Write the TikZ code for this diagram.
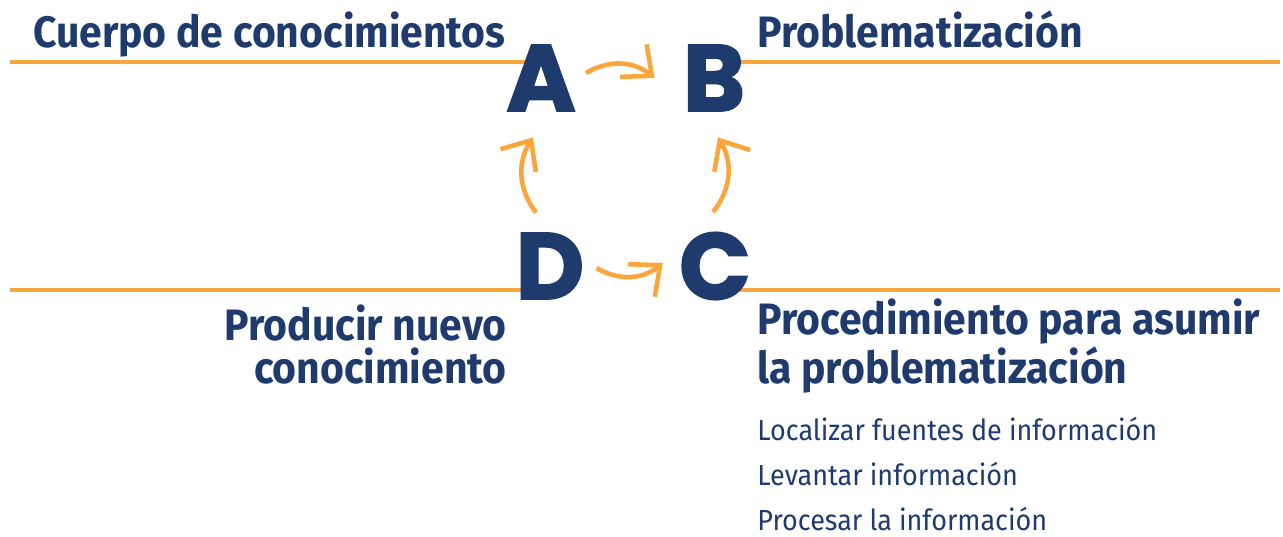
\documentclass[tikz,border=0pt]{standalone}
\usepackage{fontspec}
\setmainfont{Fira Sans}[FakeStretch=0.93]
\newfontfamily\letterfont{Poppins}[BoldFeatures={FakeBold=2}]
\usetikzlibrary{arrows.meta}
\definecolor{navy}{RGB}{31,59,110}
\definecolor{naranja}{RGB}{250,166,60}

\begin{document}
\begin{tikzpicture}[x=0.5pt, y=-0.5pt,
  letra/.style={text=navy, font=\letterfont\bfseries\fontsize{47}{47}\selectfont, inner sep=0},
  titulo/.style={text=navy, font=\bfseries\fontsize{22}{21.5}\selectfont, inner sep=0},
  paso/.style={text=navy, font=\fontsize{14.5}{22.5}\selectfont, inner sep=0},
  regla/.style={draw=naranja, line width=2pt},
  ciclo/.style={draw=naranja, line width=2.3pt, -{Straight Barb[length=12pt, width=21pt]}}]
\useasboundingbox (0,0) rectangle (1283,536);

% orange rules
\draw[regla] (10,62) -- (527,62);
\draw[regla] (735,62) -- (1280,62);
\draw[regla] (10,290) -- (525,290);
\draw[regla] (740,290) -- (1280,290);

% letters
\node[letra] (A) at (541,78) {A};
\node[letra] (B) at (714,78) {B};
\node[letra] (D) at (550,266) {D};
\node[letra] (C) at (715,266) {C};

% cycle
\draw[ciclo] ([shift={(10,-5)}]A.east) to[bend left=35] ([shift={(-28,0)}]B.west);
\draw[ciclo] ([shift={(-2,-20)}]C.north) to[bend right=35] ([shift={(4,26)}]B.south);
\draw[ciclo] ([shift={(12,2)}]D.east) to[bend right=35] ([shift={(-16,-3)}]C.west);
\draw[ciclo] ([shift={(-14,-20)}]D.north) to[bend left=35] ([shift={(-8,26)}]A.south);

% texts
\node[titulo, anchor=base east] (cuerpo) at (506,47) {Cuerpo de conocimientos};
\node[titulo, anchor=base west] (problema) at (757,47) {Problematización};
\node[titulo, anchor=base east, align=right] (producir) at (507,383) {Producir nuevo\\conocimiento};
\node[titulo, anchor=base west, align=left] (procedimiento) at (757,383) {Procedimiento para asumir\\la problematización};
\node[paso, anchor=base west, align=left] (pasos) at (757,530) {Localizar fuentes de información\\Levantar información\\Procesar la información};
\end{tikzpicture}
\end{document}
